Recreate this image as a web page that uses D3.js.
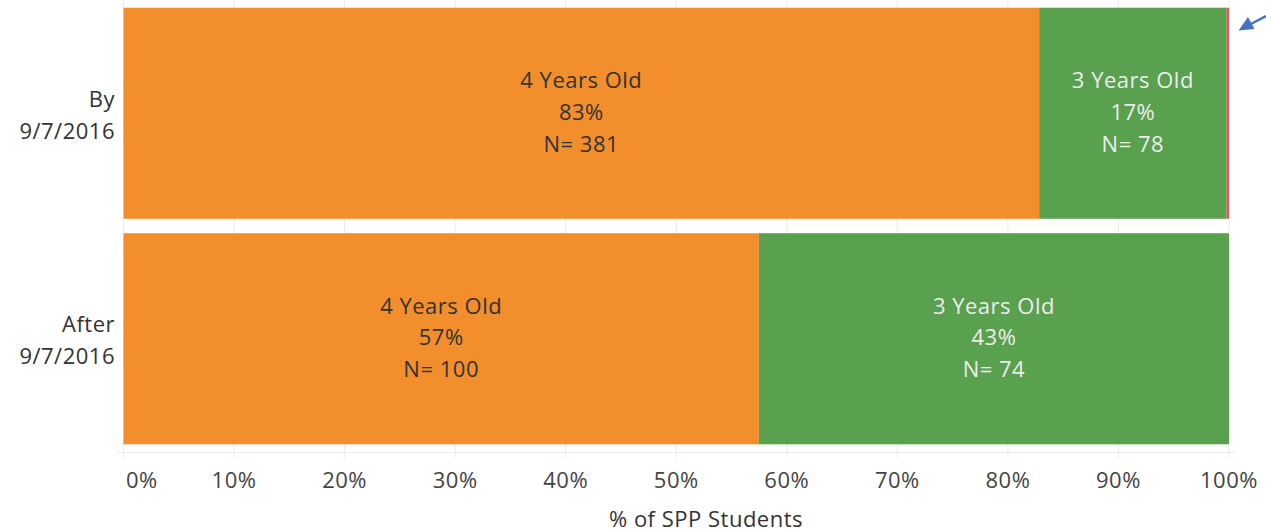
<!DOCTYPE html>
<html><head><meta charset="utf-8">
<script src="https://cdn.jsdelivr.net/npm/d3@7"></script>
<style>body{margin:0;background:#fff;}svg{display:block;font-family:"Open Sans",sans-serif;}</style>
</head><body>
<svg id="c" width="1266" height="532"></svg>
<script>
const rowLabels = [["By","9/7/2016"],["After","9/7/2016"]];
const rowKeys = ["by","after"];
const ageGroups = ["4 Years Old","3 Years Old","Other"];
const count4 = [381, 100];
const count3 = [78, 74];
const countOther = [1, 0];
const tickValues = [0,0.1,0.2,0.3,0.4,0.5,0.6,0.7,0.8,0.9,1];
const tickLabels = ["0%","10%","20%","30%","40%","50%","60%","70%","80%","90%","100%"];
const colors = ["#F28E2B","#59A14F","#E15759"];
const labelColors = ["#333333","#ececec","#ffffff"];

const FS = 22, LS = 0.5;
const svg = d3.select("#c");
const x = d3.scaleLinear().domain([0,1]).range([123.5,1229]);
const y = d3.scaleBand().domain(rowKeys).range([0.5,451.5]).paddingInner(0.064).paddingOuter(0.032);

// gridlines
svg.append("g").selectAll("line").data(tickValues).join("line")
  .attr("x1",d=>x(d)).attr("x2",d=>x(d)).attr("y1",0).attr("y2",458)
  .attr("stroke","#ebebeb").attr("stroke-width",1);
svg.append("line").attr("x1",118).attr("x2",1235).attr("y1",452.5).attr("y2",452.5)
  .attr("stroke","#ebebeb");

const table = rowKeys.map((k,i)=>({key:k, vals:[count4[i],count3[i],countOther[i]]}));
table.forEach(r=>{
  const total = d3.sum(r.vals);
  let cum = 0;
  r.segs = r.vals.map((v,j)=>{const s={row:r.key,j,v,p:v/total,x0:cum/total}; cum+=v; s.x1=cum/total; return s;});
});

const g = svg.append("g");
table.forEach(r=>{
  g.selectAll(null).data(r.segs.filter(s=>s.v>0)).join("rect")
    .attr("x",s=>x(s.x0)).attr("width",s=>x(s.x1)-x(s.x0))
    .attr("y",y(r.key)).attr("height",y.bandwidth())
    .attr("fill",s=>colors[s.j]);
  r.segs.filter(s=>s.p>0.05).forEach(s=>{
    const cx=(x(s.x0)+x(s.x1))/2, cy=y(r.key)+y.bandwidth()/2;
    const lines=[ageGroups[s.j], Math.round(s.p*100)+"%", "N= "+s.v];
    const t=g.append("text").attr("x",cx).attr("text-anchor","middle")
      .attr("font-size",FS).attr("letter-spacing",LS).attr("fill",labelColors[s.j]);
    lines.forEach((l,i)=>t.append("tspan").attr("x",cx).attr("y",cy+(i-1)*31.75+6.5).text(l));
  });
});

// row labels
rowKeys.forEach((k,i)=>{
  const cy=y(k)+y.bandwidth()/2;
  const t=svg.append("text").attr("text-anchor","end").attr("font-size",FS).attr("letter-spacing",LS).attr("fill","#333");
  rowLabels[i].forEach((l,j)=>t.append("tspan").attr("x",115).attr("y",cy-6.5+j*32).text(l));
});

// x axis labels
const xa = svg.append("g").attr("transform","translate(0,488)");
xa.selectAll("text").data(tickValues).join("text")
  .attr("x",(d,i)=> i===0 ? x(d)+2.5 : x(d))
  .attr("text-anchor",(d,i)=> i===0 ? "start" : "middle")
  .attr("font-size",FS).attr("letter-spacing",LS).attr("fill","#444")
  .text((d,i)=>tickLabels[i]);

svg.append("text").attr("x",706).attr("y",527).attr("text-anchor","middle")
  .attr("font-size",FS).attr("letter-spacing",LS).attr("fill","#333").text("% of SPP Students");

// annotation arrow
svg.append("line").attr("x1",1266).attr("y1",16).attr("x2",1249).attr("y2",25)
  .attr("stroke","#4472C4").attr("stroke-width",2.5);
svg.append("path").attr("d","M1238.5,30.5L1248,17L1254.5,29Z").attr("fill","#4472C4");
</script>
</body></html>
